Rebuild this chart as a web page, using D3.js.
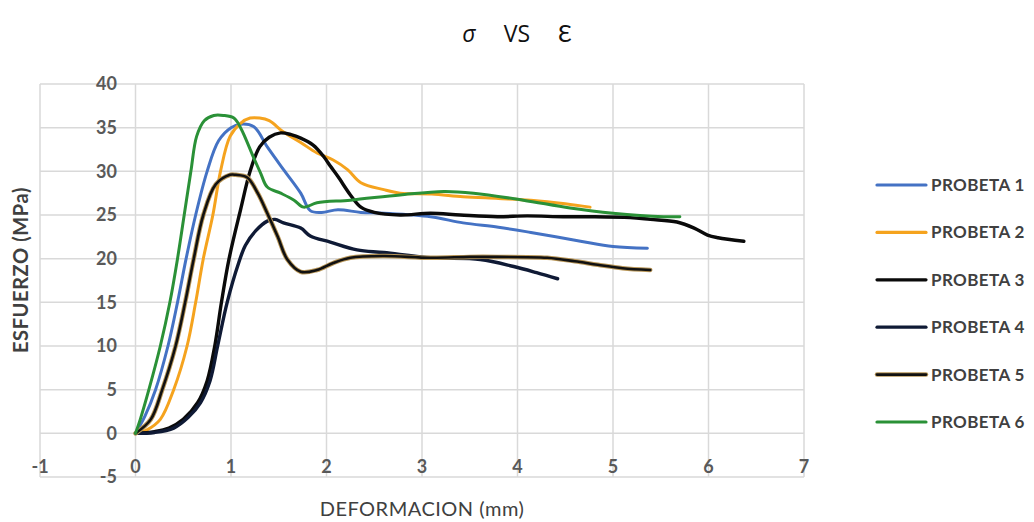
<!DOCTYPE html>
<html><head><meta charset="utf-8">
<script src="https://cdn.jsdelivr.net/npm/d3@7"></script>
<style>body{margin:0;background:#fff;} svg{display:block;}</style>
</head><body>
<svg id="chart" width="1034" height="522"></svg>
<script>
const xTicks = [-1,0,1,2,3,4,5,6,7];
const yTicks = [-5,0,5,10,15,20,25,30,35,40];
const seriesNames = ["PROBETA 1","PROBETA 2","PROBETA 3","PROBETA 4","PROBETA 5","PROBETA 6"];

const p1x = [0,0.1,0.21,0.34,0.44,0.53,0.63,0.75,0.87,1.0,1.1,1.24,1.38,1.55,1.73,1.83,1.95,2.12,2.36,2.6,3.09,3.43,3.8,4.14,4.66,5.0,5.36];
const p1y = [0,2,5,10,15,20,25,30,33.5,35,35.4,35.1,32.8,30.2,27.5,25.5,25.3,25.6,25.3,25.2,24.8,24.1,23.6,23.0,22.0,21.4,21.2];

const p2x = [0,0.12,0.26,0.4,0.54,0.63,0.71,0.81,0.89,0.99,1.1,1.2,1.3,1.4,1.55,1.73,1.9,2.07,2.22,2.36,2.6,2.77,3.1,3.43,3.8,4.14,4.5,4.76];
const p2y = [0,0.4,1.6,5,10,15,20,25,30,34,35.5,36.1,36.1,35.8,34.5,33.3,32.1,31.3,30.2,28.7,27.9,27.5,27.4,27.1,26.9,26.7,26.3,25.9];

const p3x = [0,0.2,0.35,0.5,0.65,0.75,0.83,0.9,0.98,1.1,1.2,1.3,1.4,1.52,1.63,1.73,1.86,1.97,2.04,2.12,2.25,2.36,2.5,2.77,3.09,3.4,3.79,4.1,4.48,4.8,5.18,5.39,5.67,5.85,5.99,6.1,6.37];
const p3y = [0,0.2,0.6,1.6,3.5,6,10,15,20,25.6,30,32.8,33.9,34.4,34.2,33.8,33,31.7,30.6,29.4,27.3,25.9,25.3,25.0,25.2,25.0,24.8,24.9,24.8,24.8,24.7,24.5,24.2,23.5,22.7,22.4,22.0];

const p4x = [0,0.2,0.4,0.55,0.68,0.78,0.86,0.96,1.08,1.15,1.26,1.38,1.46,1.55,1.73,1.83,2.04,2.32,2.6,3.09,3.61,3.96,4.2,4.42];
const p4y = [0,0.1,0.6,1.8,3.5,6,10,15,19.5,21.5,23.2,24.3,24.5,24.1,23.5,22.6,21.9,21.0,20.7,20.1,19.9,19.1,18.4,17.7];

const p5x = [0,0.16,0.28,0.42,0.52,0.61,0.71,0.84,0.99,1.05,1.17,1.28,1.38,1.49,1.59,1.73,1.9,2.07,2.25,2.6,3.09,3.5,3.79,4.31,4.6,4.84,5.1,5.39];
const p5y = [0,1.6,5,10,15,20,25,28.5,29.6,29.6,29.3,27.5,25.2,22.5,19.9,18.5,18.7,19.5,20.1,20.3,20.1,20.2,20.2,20.1,19.7,19.3,18.9,18.7];

const p6x = [0,0.05,0.14,0.26,0.36,0.44,0.51,0.58,0.64,0.72,0.82,0.92,1.03,1.1,1.24,1.31,1.38,1.52,1.66,1.76,1.9,2.25,2.77,3.23,3.54,4.06,4.55,5.0,5.53,5.7];
const p6y = [0,1.6,5,10,15,20,25,30,34,35.8,36.4,36.4,36.1,35,31.5,29.8,28.2,27.5,26.7,25.9,26.4,26.7,27.3,27.7,27.5,26.7,25.8,25.2,24.8,24.8];

const colors = ["#4472c4","#f5a31e","#0a0a0a","#0f1a35","#111111","#2a9137"];
const allX = [p1x,p2x,p3x,p4x,p5x,p6x];
const allY = [p1y,p2y,p3y,p4y,p5y,p6y];
const series = seriesNames.map((n,i)=>({name:n, color:colors[i], pts: allX[i].map((x,j)=>[x, allY[i][j]])}));

const svg = d3.select("#chart");
const x = d3.scaleLinear().domain([-1,7]).range([40,804]);
const y = d3.scaleLinear().domain([-5,40]).range([477,84]);
const FONT = "Lato, 'Open Sans', sans-serif";

// grid
const g = svg.append("g");
g.selectAll("line.h").data(yTicks).join("line")
  .attr("x1",x(-1)).attr("x2",x(7)).attr("y1",d=>y(d)).attr("y2",d=>y(d))
  .attr("stroke","#d9d9d9").attr("stroke-width",1.5);
g.selectAll("line.v").data(xTicks).join("line")
  .attr("y1",y(-5)).attr("y2",y(40)).attr("x1",d=>x(d)).attr("x2",d=>x(d))
  .attr("stroke","#d9d9d9").attr("stroke-width",1.5);

// y tick labels
svg.append("g").selectAll("text").data(yTicks).join("text")
  .attr("x",117).attr("y",d=>y(d)).attr("dy","0.35em")
  .attr("text-anchor","end")
  .attr("font-family",FONT).attr("font-weight","bold")
  .attr("font-size",18).attr("fill","#595959").text(d=>d);

// x tick labels
svg.append("g").selectAll("text").data(xTicks).join("text")
  .attr("x",d=>x(d)).attr("y",467).attr("dy","0.35em")
  .attr("text-anchor","middle")
  .attr("font-family",FONT).attr("font-weight","bold")
  .attr("font-size",18).attr("fill","#595959").text(d=>d);

// lines
const line = d3.line().x(d=>x(d[0])).y(d=>y(d[1])).curve(d3.curveCatmullRom.alpha(0.5));
const lg = svg.append("g").attr("fill","none").attr("stroke-linejoin","round").attr("stroke-linecap","round");
series.forEach((s,i)=>{
  if(i===4){
    lg.append("path").attr("d",line(s.pts)).attr("stroke","#b89658").attr("stroke-width",4.5);
    lg.append("path").attr("d",line(s.pts)).attr("stroke",s.color).attr("stroke-width",2.6);
  } else {
    lg.append("path").attr("d",line(s.pts)).attr("stroke",s.color).attr("stroke-width",i===2||i===3?3.4:3);
  }
});

// legend
const leg = svg.append("g");
series.forEach((s,i)=>{
  const yy = 185 + i*47.4;
  if(i===4){
    leg.append("line").attr("x1",877).attr("x2",926).attr("y1",yy).attr("y2",yy).attr("stroke","#b89658").attr("stroke-width",4.5).attr("stroke-linecap","round");
  }
  leg.append("line").attr("x1",877).attr("x2",926).attr("y1",yy).attr("y2",yy)
    .attr("stroke",s.color).attr("stroke-width",i===4?2.6:3.2).attr("stroke-linecap","round");
  leg.append("text").attr("x",931).attr("y",yy).attr("dy","0.35em")
    .attr("font-family",FONT).attr("font-weight","bold").attr("letter-spacing",0.4)
    .attr("font-size",17).attr("fill","#404040").text(s.name);
});

// title
const t = svg.append("text").attr("x",517).attr("y",42).attr("text-anchor","middle")
  .attr("font-family","'Open Sans', Lato, sans-serif").attr("font-size",23).attr("fill","#111");
t.append("tspan").attr("font-style","italic").text("σ");
t.append("tspan").attr("dx",28).text("VS");
t.append("tspan").attr("dx",28).text("Ɛ");

// axis titles
svg.append("text").attr("transform","translate(28,270) rotate(-90)").attr("text-anchor","middle")
  .attr("font-family",FONT).attr("font-weight","bold").attr("letter-spacing",0.6)
  .attr("font-size",20).attr("fill","#404040").text("ESFUERZO (MPa)");
svg.append("text").attr("x",422).attr("y",516).attr("text-anchor","middle")
  .attr("font-family",FONT).attr("letter-spacing",0.5)
  .attr("font-size",20).attr("fill","#404040").text("DEFORMACION (mm)");
</script>
</body></html>
